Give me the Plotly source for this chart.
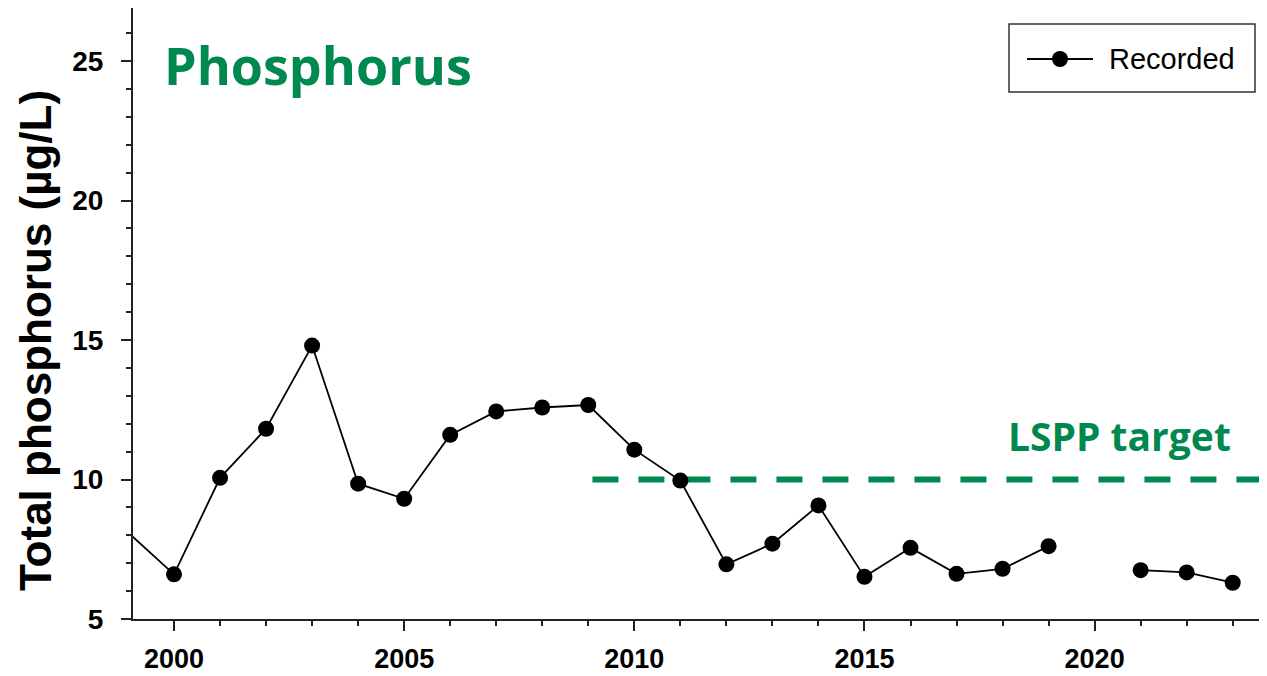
import plotly.graph_objects as go

years = [1999, 2000, 2001, 2002, 2003, 2004, 2005, 2006, 2007, 2008, 2009, 2010,
         2011, 2012, 2013, 2014, 2015, 2016, 2017, 2018, 2019, 2020, 2021, 2022, 2023]
tp = [8.1, 6.6, 10.06, 11.82, 14.8, 9.85, 9.31, 11.6, 12.44, 12.58, 12.67, 11.07,
      9.96, 6.96, 7.70, 9.07, 6.51, 7.55, 6.62, 6.80, 7.61, None, 6.75, 6.67, 6.30]

target_x = [2009.09, 2024.5]
target_y = [10, 10]

GREEN = "rgb(0,137,79)"
AX = "#222"

# page offset of 8px (browser body margin) compensated below
PL, PT, PB, PR = 133, 8, 619, 1267   # plot area in page pixels
W = PR - PL
H = PB - PT
FIG_W, FIG_H = 1259, 668


def px(X):
    return (X - PL) / W


def py(Y):
    return (PB - Y) / H


marker_sizes = [0] + [16] * (len(years) - 1)

fig = go.Figure()
fig.add_trace(go.Scatter(
    x=target_x, y=target_y, mode="lines",
    line=dict(color=GREEN, width=6, dash="26px,20px"),
    showlegend=False, hoverinfo="skip",
))
fig.add_trace(go.Scatter(
    x=years, y=tp, mode="lines+markers", name="Recorded",
    line=dict(color="black", width=1.8),
    marker=dict(color="#000000", size=marker_sizes, opacity=1, line=dict(width=0)),
    opacity=1,
    connectgaps=False, showlegend=False,
))

shapes = [
    dict(type="rect", xref="paper", yref="paper", x0=px(1009), x1=px(1255), y0=py(92), y1=py(24),
         line=dict(color="#333", width=1.5), fillcolor="white", layer="above"),
    dict(type="line", xref="paper", yref="paper", x0=px(1027), x1=px(1093), y0=py(59), y1=py(59),
         line=dict(color="black", width=1.8), layer="above"),
    dict(type="circle", xref="paper", yref="paper", xsizemode="pixel", ysizemode="pixel",
         xanchor=px(1060), yanchor=py(59), x0=-8, x1=8, y0=-8, y1=8,
         line=dict(width=0), fillcolor="black", layer="above"),
]

fig.update_layout(
    width=FIG_W, height=FIG_H,
    margin=dict(l=PL - 8, r=0, t=0, b=FIG_H - (PB - 8)),
    paper_bgcolor="white", plot_bgcolor="white",
    font=dict(family="Liberation Sans, Arial", color="black"),
    showlegend=False,
    xaxis=dict(
        range=[1999.109, 2023.745], automargin=False,
        tick0=2000, dtick=5, ticks="outside", ticklen=10, tickwidth=1.5, tickcolor=AX,
        minor=dict(dtick=1, ticks="outside", ticklen=5, tickwidth=1.5, tickcolor=AX),
        showline=True, linecolor=AX, linewidth=2, mirror=True,
        showgrid=False, zeroline=False,
        tickfont=dict(size=27, family="Liberation Sans, Arial", weight="bold"),
        ticklabelstandoff=5,
    ),
    yaxis=dict(
        range=[5, 5 + H / 27.9], automargin=False,
        tick0=5, dtick=5, ticks="outside", ticklen=10, tickwidth=1.5, tickcolor=AX,
        minor=dict(dtick=1, ticks="outside", ticklen=5, tickwidth=1.5, tickcolor=AX),
        showline=True, linecolor=AX, linewidth=2,
        showgrid=False, zeroline=False,
        tickfont=dict(size=28, family="Liberation Sans, Arial", weight="bold"),
        ticklabelstandoff=12,
    ),
    shapes=shapes,
    annotations=[
        dict(text="Recorded", xref="paper", yref="paper", x=px(1107), y=py(59),
             xanchor="left", yanchor="middle", showarrow=False,
             font=dict(size=29, family="Liberation Sans, Arial", color="black")),
        dict(text="Total phosphorus (µg/L)", textangle=-90, xref="paper", yref="paper",
             x=px(35), y=py(341), xanchor="center", yanchor="middle", showarrow=False,
             font=dict(size=44, family="Liberation Sans, Arial", weight="bold", color="black")),
        dict(text="Phosphorus", xref="paper", yref="paper", x=px(162), y=py(65),
             xanchor="left", yanchor="middle", showarrow=False,
             font=dict(size=52, family="Open Sans", weight="bold", color=GREEN)),
        dict(text="LSPP target", xref="paper", yref="paper", x=px(1006), y=py(436),
             xanchor="left", yanchor="middle", showarrow=False,
             font=dict(size=39, family="Open Sans", weight="bold", color=GREEN)),
    ],
)

fig.write_html("out.html")
